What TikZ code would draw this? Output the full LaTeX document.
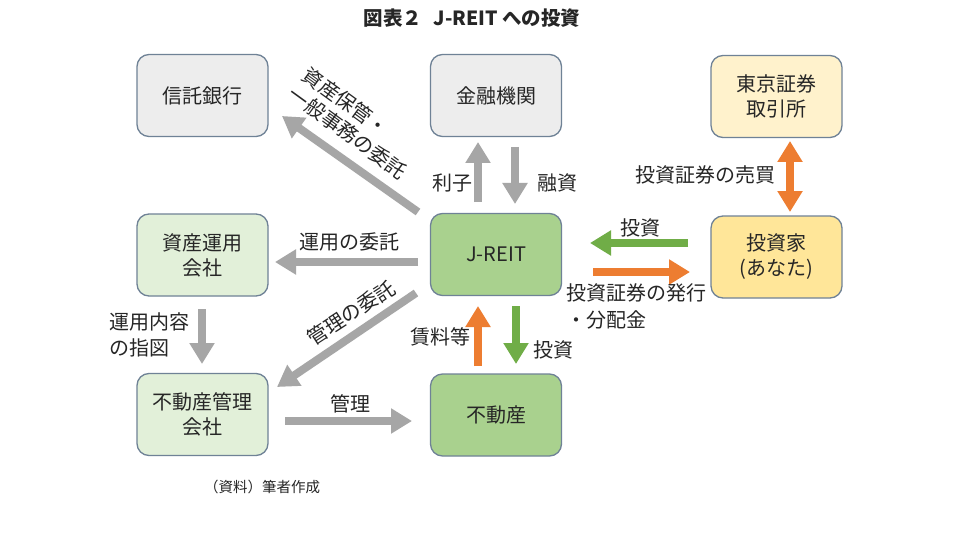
\documentclass[tikz,border=0pt]{standalone}
\usepackage{fontspec}
\setmainfont{Noto Sans CJK JP}
\usetikzlibrary{arrows.meta}
\definecolor{boxline}{HTML}{6F8296}
\definecolor{fgray}{HTML}{EDEDED}
\definecolor{fltyellow}{HTML}{FFF2CC}
\definecolor{fltgreen}{HTML}{E2F0D9}
\definecolor{fgreen}{HTML}{A9D18E}
\definecolor{fyellow}{HTML}{FFE699}
\definecolor{arrgray}{HTML}{A6A6A6}
\definecolor{arrgreen}{HTML}{70AD47}
\definecolor{arrorange}{HTML}{ED7D31}
\definecolor{txt}{HTML}{262626}
\begin{document}
\begin{tikzpicture}[x=1pt,y=-1pt,
  box/.style={draw=boxline, line width=1.3pt, rounded corners=12pt,
    minimum width=131pt, minimum height=82pt, align=center, inner sep=0pt,
    text=txt, font=\fontsize{20}{25}\selectfont},
  lbl/.style={text=txt, inner sep=0pt, font=\fontsize{20}{24}\selectfont},
  tip/.style={-{Triangle[width=24pt,length=21pt]}},
  garrow/.style={draw=arrgray, line width=8pt, tip},
  grarrow/.style={draw=arrgreen, line width=8pt, tip},
  orarrow/.style={draw=arrorange, line width=8pt, tip}]
\useasboundingbox[fill=white] (0,0) rectangle (960,540);

\node[text=txt, font=\bfseries\fontsize{19.5}{22}\selectfont] (title) at (472,18) {図表２\hspace{0.6em}J-REIT への投資};

\node[box, fill=fgray] (bank) at (202.5,95.5) {信託銀行};
\node[box, fill=fgray] (fin) at (496,95.5) {金融機関};
\node[box, fill=fltyellow] (tse) at (776.5,96.5) {東京証券\\取引所};
\node[box, fill=fltgreen] (am) at (202.5,255) {資産運用\\会社};
\node[box, fill=fgreen] (jreit) at (496,254.5) {J-REIT};
\node[box, fill=fyellow] (inv) at (776.5,257) {投資家\\(あなた)};
\node[box, fill=fltgreen] (pm) at (202.5,414.5) {不動産管理\\会社};
\node[box, fill=fgreen] (re) at (496,415) {不動産};

% coordinates for arrow ends
\coordinate (a1s) at (418,212); \coordinate (a1e) at (282,116);
\coordinate (a2s) at (418,262); \coordinate (a2e) at (275,262);
\coordinate (a3s) at (416,293); \coordinate (a3e) at (277,387);
\coordinate (a4s) at (202,309); \coordinate (a4e) at (202,364);
\coordinate (a5s) at (285,421); \coordinate (a5e) at (412,421);
\coordinate (a6s) at (478,366); \coordinate (a6e) at (478,306);
\coordinate (a7s) at (516,306); \coordinate (a7e) at (516,364);
\coordinate (a8s) at (478,202); \coordinate (a8e) at (478,142);
\coordinate (a9s) at (515,147); \coordinate (a9e) at (515,204);
\coordinate (b1s) at (688,243); \coordinate (b1e) at (590,243);
\coordinate (b2s) at (593,272); \coordinate (b2e) at (690,272);
\coordinate (b3s) at (790,141); \coordinate (b3e) at (790,212);

\draw[garrow] (a1s) -- (a1e);
\draw[garrow] (a2s) -- (a2e);
\draw[garrow] (a3s) -- (a3e);
\draw[garrow] (a4s) -- (a4e);
\draw[garrow] (a5s) -- (a5e);
\draw[orarrow] (a6s) -- (a6e);
\draw[grarrow] (a7s) -- (a7e);
\draw[garrow] (a8s) -- (a8e);
\draw[garrow] (a9s) -- (a9e);
\draw[grarrow] (b1s) -- (b1e);
\draw[orarrow] (b2s) -- (b2e);
\draw[draw=arrorange, line width=8pt, {Triangle[width=24pt,length=21pt]}-{Triangle[width=24pt,length=21pt]}] (b3s) -- (b3e);

% labels
\node[lbl, align=left, rotate=-36, font=\fontsize{20}{24}\selectfont] (l1) at (355,123) {資産保管・\\一般事務の委託};
\node[lbl] (l2) at (349,242) {運用の委託};
\node[lbl, rotate=33] (l3) at (351,313) {管理の委託};
\node[lbl, align=left, font=\fontsize{20}{26}\selectfont] (l4) at (149,335) {運用内容\\の指図};
\node[lbl] (l5) at (350,404) {管理};
\node[lbl] (l6) at (440,337) {賃料等};
\node[lbl] (l7) at (553,350) {投資};
\node[lbl] (l8) at (452,183) {利子};
\node[lbl] (l9) at (557,183) {融資};
\node[lbl] (l10) at (640,228) {投資};
\node[lbl, align=left, font=\fontsize{20}{27}\selectfont] (l11) at (636,306.5) {投資証券の発行\\・分配金};
\node[lbl] (l12) at (705,175) {投資証券の売買};
\node[text=txt, inner sep=0pt, font=\fontsize{14.5}{17}\selectfont] (src) at (262,487) {（資料）筆者作成};
\end{tikzpicture}
\end{document}
